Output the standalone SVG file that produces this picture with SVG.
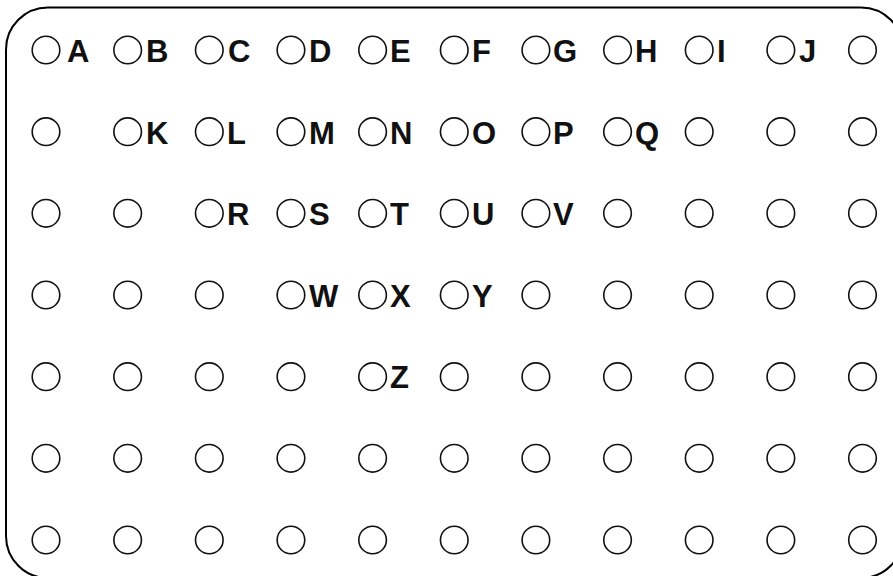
<svg xmlns="http://www.w3.org/2000/svg" width="893" height="576" viewBox="0 0 893 576">
<defs>
<style>
.frame{fill:none;stroke:#000;stroke-width:2}
.dot{fill:#fff;stroke:#111;stroke-width:1.6}
.lbl{font-family:"Liberation Sans",Arial,sans-serif;font-weight:bold;font-size:31px;fill:#111}
</style>
<circle id="c" r="13.8" class="dot"/>
</defs>
<rect id="frame" x="6" y="7.5" width="897" height="570.5" rx="42" ry="42" class="frame"/>
<g id="grid">
<g id="row1">
<use href="#c" x="46" y="50"/><use href="#c" x="127.65" y="50"/><use href="#c" x="209.3" y="50"/><use href="#c" x="290.95" y="50"/><use href="#c" x="372.6" y="50"/><use href="#c" x="454.25" y="50"/><use href="#c" x="535.9" y="50"/><use href="#c" x="617.55" y="50"/><use href="#c" x="699.2" y="50"/><use href="#c" x="780.85" y="50"/><use href="#c" x="862.5" y="50"/>
</g>
<g id="row2">
<use href="#c" x="46" y="131.7"/><use href="#c" x="127.65" y="131.7"/><use href="#c" x="209.3" y="131.7"/><use href="#c" x="290.95" y="131.7"/><use href="#c" x="372.6" y="131.7"/><use href="#c" x="454.25" y="131.7"/><use href="#c" x="535.9" y="131.7"/><use href="#c" x="617.55" y="131.7"/><use href="#c" x="699.2" y="131.7"/><use href="#c" x="780.85" y="131.7"/><use href="#c" x="862.5" y="131.7"/>
</g>
<g id="row3">
<use href="#c" x="46" y="213.3"/><use href="#c" x="127.65" y="213.3"/><use href="#c" x="209.3" y="213.3"/><use href="#c" x="290.95" y="213.3"/><use href="#c" x="372.6" y="213.3"/><use href="#c" x="454.25" y="213.3"/><use href="#c" x="535.9" y="213.3"/><use href="#c" x="617.55" y="213.3"/><use href="#c" x="699.2" y="213.3"/><use href="#c" x="780.85" y="213.3"/><use href="#c" x="862.5" y="213.3"/>
</g>
<g id="row4">
<use href="#c" x="46" y="295"/><use href="#c" x="127.65" y="295"/><use href="#c" x="209.3" y="295"/><use href="#c" x="290.95" y="295"/><use href="#c" x="372.6" y="295"/><use href="#c" x="454.25" y="295"/><use href="#c" x="535.9" y="295"/><use href="#c" x="617.55" y="295"/><use href="#c" x="699.2" y="295"/><use href="#c" x="780.85" y="295"/><use href="#c" x="862.5" y="295"/>
</g>
<g id="row5">
<use href="#c" x="46" y="376.7"/><use href="#c" x="127.65" y="376.7"/><use href="#c" x="209.3" y="376.7"/><use href="#c" x="290.95" y="376.7"/><use href="#c" x="372.6" y="376.7"/><use href="#c" x="454.25" y="376.7"/><use href="#c" x="535.9" y="376.7"/><use href="#c" x="617.55" y="376.7"/><use href="#c" x="699.2" y="376.7"/><use href="#c" x="780.85" y="376.7"/><use href="#c" x="862.5" y="376.7"/>
</g>
<g id="row6">
<use href="#c" x="46" y="458.3"/><use href="#c" x="127.65" y="458.3"/><use href="#c" x="209.3" y="458.3"/><use href="#c" x="290.95" y="458.3"/><use href="#c" x="372.6" y="458.3"/><use href="#c" x="454.25" y="458.3"/><use href="#c" x="535.9" y="458.3"/><use href="#c" x="617.55" y="458.3"/><use href="#c" x="699.2" y="458.3"/><use href="#c" x="780.85" y="458.3"/><use href="#c" x="862.5" y="458.3"/>
</g>
<g id="row7">
<use href="#c" x="46" y="540"/><use href="#c" x="127.65" y="540"/><use href="#c" x="209.3" y="540"/><use href="#c" x="290.95" y="540"/><use href="#c" x="372.6" y="540"/><use href="#c" x="454.25" y="540"/><use href="#c" x="535.9" y="540"/><use href="#c" x="617.55" y="540"/><use href="#c" x="699.2" y="540"/><use href="#c" x="780.85" y="540"/><use href="#c" x="862.5" y="540"/>
</g>
</g>
<g id="labels" class="lbl">
<text x="67" y="62">A</text><text x="146" y="62">B</text><text x="228" y="62">C</text><text x="309" y="62">D</text><text x="390" y="62">E</text><text x="472" y="62">F</text><text x="553" y="62">G</text><text x="635" y="62">H</text><text x="717" y="62">I</text><text x="799" y="62">J</text>
<text x="146" y="143.5">K</text><text x="227" y="143.5">L</text><text x="309" y="143.5">M</text><text x="390" y="143.5">N</text><text x="472" y="143.5">O</text><text x="553" y="143.5">P</text><text x="635" y="143.5">Q</text>
<text x="227" y="225">R</text><text x="309" y="225">S</text><text x="390" y="225">T</text><text x="472" y="225">U</text><text x="553" y="225">V</text>
<text x="309" y="306.5">W</text><text x="390" y="306.5">X</text><text x="472" y="306.5">Y</text>
<text x="390" y="388">Z</text>
</g>
</svg>
